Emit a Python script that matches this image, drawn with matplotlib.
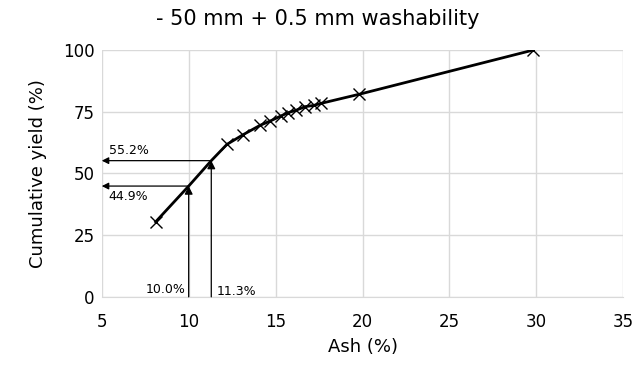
import matplotlib
matplotlib.use("Agg")
import matplotlib.pyplot as plt

# washability curve
ash = [8.1, 10.0, 11.3, 12.2, 13.1, 14.1, 14.7, 15.3, 15.7, 16.2, 16.7, 17.2, 17.6, 19.8, 29.8]
cum_yield = [30.4, 44.9, 55.2, 61.8, 65.6, 69.5, 71.3, 73.3, 74.6, 75.7, 77.1, 77.6, 78.4, 82.1, 100.0]

# read-off points
read_ash = [10.0, 11.3]
read_yield = [44.9, 55.2]

fig = plt.figure(figsize=(6.36, 3.66), dpi=100)
ax = fig.add_axes([0.160, 0.189, 0.820, 0.674])

# crosses only on curve points, not on the read-off points
cross_x = [a for a in ash if a not in read_ash]
cross_y = [y for a, y in zip(ash, cum_yield) if a not in read_ash]
ax.plot(ash, cum_yield, color='black', lw=2, zorder=3)
ax.plot(cross_x, cross_y, 'x', color='black', ms=8, mew=1, zorder=4)

for a, y in zip(read_ash, read_yield):
    # vertical arrow from x axis up to curve
    ax.annotate('', xy=(a, y), xytext=(a, 0),
                arrowprops=dict(arrowstyle='-|>', color='black', lw=0.9,
                                mutation_scale=12, shrinkA=0, shrinkB=0))
    # horizontal arrow from curve to y axis
    ax.annotate('', xy=(5, y), xytext=(a, y),
                arrowprops=dict(arrowstyle='-|>', color='black', lw=0.9,
                                mutation_scale=10, shrinkA=0, shrinkB=0))

ax.text(5.4, read_yield[1] + 1.5, '%.1f%%' % read_yield[1], fontsize=9, va='bottom')
ax.text(5.4, read_yield[0] - 1.5, '%.1f%%' % read_yield[0], fontsize=9, va='top')
ax.text(read_ash[0] - 0.2, 0.5, '%.1f%%' % read_ash[0], fontsize=9, ha='right', va='bottom')
ax.text(read_ash[1] + 0.3, -0.5, '%.1f%%' % read_ash[1], fontsize=9, ha='left', va='bottom')

ax.set_xlim(5, 35)
ax.set_ylim(0, 100)
ax.set_xticks(range(5, 36, 5))
ax.set_yticks(range(0, 101, 25))
ax.grid(True, color='#d9d9d9', lw=1)
ax.set_axisbelow(True)
for s in ['top', 'right', 'left']:
    ax.spines[s].set_visible(False)
ax.spines['bottom'].set_color('#d9d9d9')
ax.tick_params(length=0, labelsize=12)
ax.tick_params(axis='x', pad=12)
ax.tick_params(axis='y', pad=5)
ax.set_xlabel('Ash (%)', fontsize=13, labelpad=5)
ax.set_ylabel('Cumulative yield (%)', fontsize=13, labelpad=12)
fig.suptitle('- 50 mm + 0.5 mm washability', fontsize=15, y=0.975)

fig.savefig('out.png', dpi=100)
